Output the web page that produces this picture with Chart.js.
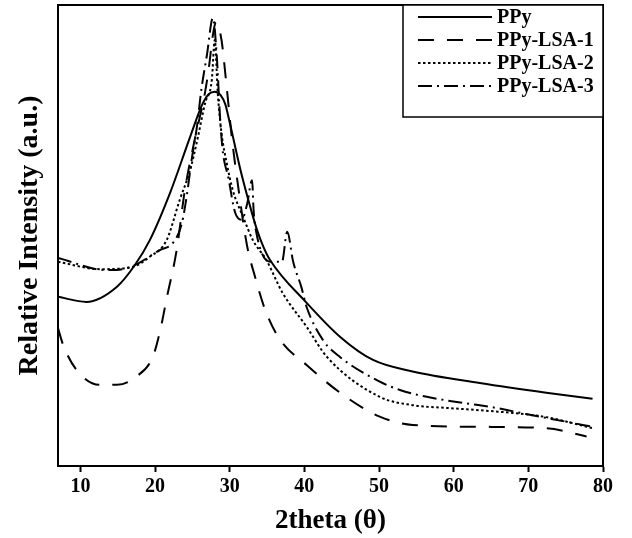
<!DOCTYPE html>
<html>
<head>
<meta charset="utf-8">
<script src="https://cdn.jsdelivr.net/npm/chart.js@4"></script>
<style>
  html, body { margin: 0; padding: 0; background: #fff; }
</style>
</head>
<body>
<canvas id="myChart" width="632" height="538"></canvas>
<script>
// 2theta tick labels shown on the x axis
var xTicks = [10, 20, 30, 40, 50, 60, 70, 80];

var seriesNames = ['PPy', 'PPy-LSA-1', 'PPy-LSA-2', 'PPy-LSA-3'];

// PPy
var ppyX = [7, 10.8, 14.9, 17.3, 19.3, 22.0, 24.7, 26.4, 27.2, 28.0, 28.8, 29.4, 30.0, 31.4, 32.7, 33.6, 34.5, 35.4, 40.3, 44.8, 49.2, 54.5, 63.5, 72.4, 78.6];
var ppyY = [36.7, 35.6, 38.9, 43.6, 49.0, 59.2, 71.4, 78.7, 80.7, 81.2, 80.4, 78.5, 74.5, 64.5, 56.5, 51.5, 47.6, 44.7, 35.4, 28.0, 23.0, 20.5, 18.0, 15.9, 14.6];

// PPy-LSA-1
var lsa1X = [7, 7.7, 9.5, 12.6, 14.9, 17.5, 19.7, 20.7, 21.6, 22.9, 24.0, 25.3, 26.7, 27.2, 27.75, 28.15, 28.9, 29.5, 30.3, 31.1, 32.3, 33.4, 34.7, 36.7, 40.3, 45.2, 50.1, 54.5, 63.5, 72.4, 77.8];
var lsa1Y = [29.9, 26.2, 20.8, 17.6, 17.6, 19.4, 23.7, 29.5, 36.7, 46.9, 59.9, 70.7, 81.1, 86.3, 93.5, 96.3, 92.4, 83.7, 71.0, 61.0, 48.0, 41.0, 34.1, 27.5, 21.9, 15.4, 10.7, 8.9, 8.5, 8.2, 6.4];

// PPy-LSA-2
var lsa2X = [7, 12.6, 17.0, 19.3, 21.55, 23.3, 24.7, 25.75, 26.7, 27.6, 28.0, 28.4, 28.9, 29.6, 30.4, 31.8, 33.1, 34.9, 37.1, 40.3, 43.0, 50.1, 54.5, 59.0, 63.5, 67.9, 72.4, 78.6];
var lsa2Y = [44.3, 42.7, 43.2, 45.4, 49.0, 57.7, 64.2, 71.4, 78.7, 83.7, 92.4, 80.9, 72.2, 65.7, 59.9, 54.0, 49.0, 44.7, 37.5, 30.2, 23.7, 15.0, 13.2, 12.6, 12.1, 11.5, 10.6, 8.2];

// PPy-LSA-3
var lsa3X = [7, 13.5, 16.6, 20.7, 22.4, 23.6, 24.3, 24.9, 25.6, 26.2, 26.95, 27.75, 28.3, 28.7, 29.1, 29.8, 30.7, 31.6, 32.3, 33.0, 33.2, 33.5, 35.4, 37.0, 37.7, 38.5, 39.6, 40.3, 42.5, 44.8, 50.1, 52.8, 56.4, 61.2, 65.7, 70.2, 75.1, 78.6];
var lsa3Y = [45.1, 42.5, 43.1, 46.9, 48.4, 52.7, 59.2, 66.4, 73.5, 81.6, 89.2, 97.2, 88.1, 75.7, 67.9, 62.7, 55.1, 53.4, 56.6, 62.0, 55.5, 51.2, 44.3, 44.3, 50.8, 44.3, 38.8, 34.5, 27.3, 23.6, 18.3, 16.5, 15.0, 13.7, 12.6, 11.1, 9.6, 8.5];

var dashes = [[], [16, 13], [2.5, 2.5], [14, 5, 2, 5]];

function pts(xs, ys) {
  return xs.map(function (x, i) { return { x: x, y: ys[i] }; });
}

var FONT = '"Liberation Serif", "Times New Roman", serif';

// box around the plot (top/right sides) and the framed legend
var framePlugin = {
  id: 'frame',
  afterDraw: function (chart) {
    var ctx = chart.ctx;
    var a = chart.chartArea;
    ctx.save();
    ctx.strokeStyle = '#000';
    ctx.lineWidth = 2;
    ctx.beginPath();
    ctx.moveTo(a.left, a.top);
    ctx.lineTo(a.right, a.top);
    ctx.lineTo(a.right, a.bottom);
    ctx.stroke();

    // legend
    var bx = 403, by = 5, bw = 200, bh = 112;
    ctx.fillStyle = '#fff';
    ctx.fillRect(bx, by, bw, bh);
    ctx.lineWidth = 1.5;
    ctx.strokeRect(bx, by, bw, bh);
    ctx.font = 'bold 20px ' + FONT;
    ctx.textBaseline = 'middle';
    ctx.fillStyle = '#000';
    chart.data.datasets.forEach(function (ds, i) {
      var y = by + 12 + i * 23;
      ctx.lineWidth = 2;
      ctx.setLineDash(ds.borderDash || []);
      ctx.beginPath();
      ctx.moveTo(418, y);
      ctx.lineTo(492, y);
      ctx.stroke();
      ctx.setLineDash([]);
      ctx.fillText(ds.label, 497, y + 1);
    });
    ctx.restore();
  }
};

var ctx = document.getElementById('myChart').getContext('2d');
var allX = [ppyX, lsa1X, lsa2X, lsa3X];
var allY = [ppyY, lsa1Y, lsa2Y, lsa3Y];

var myChart = new Chart(ctx, {
  type: 'line',
  data: {
    datasets: seriesNames.map(function (name, i) {
      return {
        label: name,
        data: pts(allX[i], allY[i]),
        borderColor: '#000',
        borderWidth: 2,
        borderDash: dashes[i],
        pointRadius: 0,
        fill: false,
        cubicInterpolationMode: 'monotone'
      };
    })
  },
  options: {
    responsive: false,
    animation: false,
    layout: { padding: { top: 5, right: 29, left: 0, bottom: 0 } },
    plugins: {
      legend: { display: false },
      tooltip: { enabled: false }
    },
    scales: {
      x: {
        type: 'linear',
        min: 7,
        max: 80,
        afterBuildTicks: function (scale) {
          scale.ticks = xTicks.map(function (v) { return { value: v }; });
        },
        afterFit: function (scale) { scale.height = 72; },
        grid: {
          display: true,
          drawOnChartArea: false,
          drawTicks: true,
          tickLength: 6,
          tickWidth: 2,
          tickColor: '#000'
        },
        border: { display: true, color: '#000', width: 2 },
        ticks: {
          color: '#000',
          padding: 3,
          maxRotation: 0,
          font: { family: FONT, size: 20, weight: 'bold' }
        },
        title: {
          display: true,
          text: '2theta (θ)',
          color: '#000',
          padding: { top: 0, bottom: 1 },
          font: { family: FONT, size: 27, weight: 'bold' }
        }
      },
      y: {
        min: 0,
        max: 100,
        afterFit: function (scale) { scale.width = 58; },
        grid: { display: false },
        border: { display: true, color: '#000', width: 2 },
        ticks: { display: false },
        title: {
          display: true,
          text: 'Relative Intensity (a.u.)',
          color: '#000',
          padding: { top: 13, bottom: 0 },
          font: { family: FONT, size: 28, weight: 'bold' }
        }
      }
    }
  },
  plugins: [framePlugin]
});
</script>
</body>
</html>
